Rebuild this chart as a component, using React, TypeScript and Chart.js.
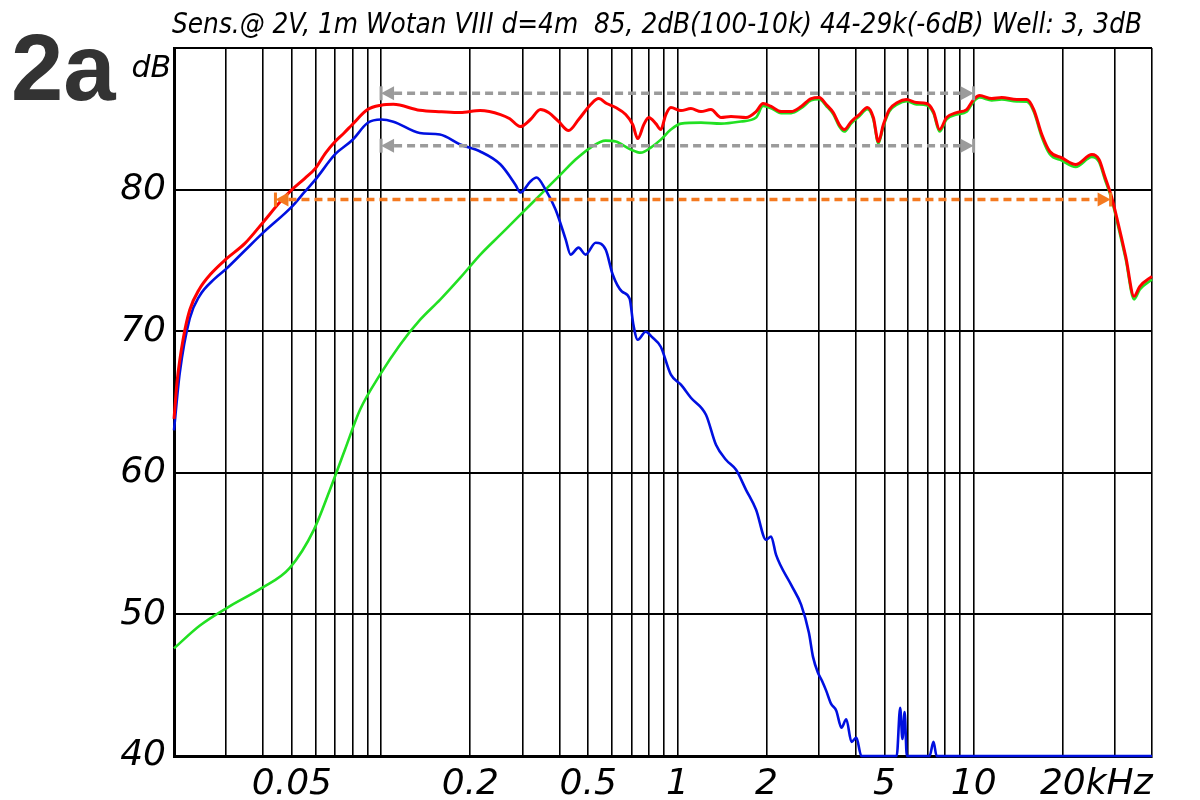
import React, { useEffect, useRef } from 'react';
import { Chart, registerables } from 'chart.js';

Chart.register(...registerables);

// ---------- texts ----------
const TITLE = 'Sens.@ 2V, 1m Wotan VIII d=4m  85, 2dB(100-10k) 44-29k(-6dB) Well: 3, 3dB';
const PANEL_LABEL = '2a';
const Y_UNIT = 'dB';

// ---------- axes ----------
const X_MIN = 0.02;
const X_MAX = 40;
const Y_MIN = 40;
const Y_MAX = 90;
const X_GRID = [0.02, 0.03, 0.04, 0.05, 0.06, 0.07, 0.08, 0.09, 0.1, 0.2, 0.3, 0.4, 0.5, 0.6, 0.7, 0.8, 0.9, 1, 2, 3, 4, 5, 6, 7, 8, 9, 10, 20, 30, 40];
const X_LABEL_VALUES = [0.05, 0.2, 0.5, 1, 2, 5, 10, 20];
const X_LABEL_NUMS = ['0.05', '0.2', '0.5', '1', '2', '5', '10', '20'];
const X_LABEL_UNIT = 'kHz';
const Y_TICKS = [40, 50, 60, 70, 80, 90];

// ---------- series (frequency in kHz, level in dB) ----------
const redFreq = [0.02, 0.0205, 0.0215, 0.0226, 0.0244, 0.0265, 0.03, 0.0347, 0.04, 0.0455, 0.05, 0.0553, 0.06, 0.065, 0.07, 0.075, 0.08, 0.09, 0.1, 0.11, 0.135, 0.16, 0.185, 0.216, 0.253, 0.272, 0.295, 0.3192, 0.3452, 0.3674, 0.3972, 0.4295, 0.4642, 0.5097, 0.5425, 0.5773, 0.6193, 0.6693, 0.7071, 0.735, 0.7703, 0.8008, 0.8457, 0.8794, 0.9144, 0.9506, 1.028, 1.111, 1.201, 1.298, 1.404, 1.517, 1.705, 1.844, 1.947, 2.072, 2.24, 2.422, 2.618, 2.83, 3.012, 3.181, 3.359, 3.52, 3.66, 3.865, 4.114, 4.378, 4.587, 4.77, 4.959, 5.196, 5.532, 5.934, 6.414, 6.934, 7.32, 7.672, 8.103, 8.761, 9.47, 10.0, 10.48, 11.51, 12.44, 13.98, 15.12, 15.96, 16.99, 18.08, 19.86, 22.1, 25.08, 26.5, 27.7, 29.2, 30.6, 32.6, 34.8, 36.4, 40.0];
const redDb = [63.8, 66.5, 69.5, 71.5, 73.0, 74.0, 75.1, 76.2, 77.7, 79.1, 80.0, 80.8, 81.5, 82.6, 83.4, 84.0, 84.6, 85.65, 85.96, 86.02, 85.6, 85.5, 85.44, 85.58, 85.3, 85.0, 84.45, 84.95, 85.65, 85.44, 84.81, 84.17, 84.95, 86.01, 86.43, 86.08, 85.8, 85.3, 84.59, 83.6, 84.59, 85.09, 84.66, 84.24, 85.3, 85.8, 85.58, 85.72, 85.51, 85.65, 85.09, 85.16, 85.09, 85.51, 86.08, 85.87, 85.51, 85.51, 85.87, 86.43, 86.5, 86.01, 85.44, 84.59, 84.24, 84.81, 85.3, 85.8, 85.09, 83.39, 84.59, 85.65, 86.15, 86.36, 86.15, 86.08, 85.51, 84.24, 85.09, 85.44, 85.65, 86.36, 86.64, 86.43, 86.5, 86.36, 86.36, 85.65, 83.89, 82.69, 82.24, 81.77, 82.47, 82.12, 80.94, 79.5, 77.8, 75.29, 72.46, 73.17, 73.87];

const blueFreq = [0.02, 0.0209, 0.0226, 0.0244, 0.0274, 0.03, 0.0347, 0.04, 0.05, 0.055, 0.06, 0.07, 0.08, 0.09, 0.1, 0.11, 0.135, 0.158, 0.185, 0.216, 0.253, 0.284, 0.2954, 0.319, 0.3346, 0.359, 0.388, 0.42, 0.436, 0.464, 0.49, 0.53, 0.573, 0.605, 0.65, 0.69, 0.71, 0.735, 0.782, 0.82, 0.879, 0.951, 1.028, 1.111, 1.249, 1.35, 1.459, 1.578, 1.705, 1.844, 1.993, 2.072, 2.154, 2.422, 2.618, 2.78, 2.87, 2.98, 3.08, 3.181, 3.3, 3.439, 3.58, 3.717, 3.87, 4.019, 4.178, 5.5, 5.65, 5.75, 5.85, 5.95, 7.1, 7.32, 7.5, 40];
const blueDb = [63.0, 67.0, 70.9, 72.5, 73.7, 74.4, 75.7, 76.96, 78.8, 79.8, 80.7, 82.5, 83.5, 84.7, 84.95, 84.8, 84.0, 83.89, 83.18, 82.69, 81.77, 80.35, 79.79, 80.57, 80.85, 80.0, 78.59, 76.47, 75.41, 75.9, 75.41, 76.25, 75.76, 74.0, 72.8, 72.3, 70.5, 69.4, 69.96, 69.6, 68.9, 66.93, 66.22, 65.3, 64.1, 61.98, 60.92, 60.21, 58.8, 57.39, 55.27, 55.5, 54.2, 52.08, 50.67, 48.7, 47.0, 45.9, 45.3, 44.6, 43.7, 43.2, 42.0, 42.6, 41.0, 41.3, 40.0, 40.0, 43.4, 41.2, 43.1, 40.0, 40.0, 41.0, 40.0, 40.0];

const greenFreq = [0.02, 0.0244, 0.0304, 0.0396, 0.0492, 0.0593, 0.0672, 0.0755, 0.0849, 0.0992, 0.1159, 0.1355, 0.1583, 0.1851, 0.2163, 0.2528, 0.2954, 0.3452, 0.4034, 0.4534, 0.5097, 0.5728, 0.6193, 0.6962, 0.7524, 0.8134, 0.8794, 0.9506, 1.028, 1.201, 1.404, 1.64, 1.844, 1.947, 2.072, 2.24, 2.422, 2.618, 2.83, 3.012, 3.181, 3.359, 3.52, 3.66, 3.865, 4.114, 4.378, 4.587, 4.77, 4.959, 5.196, 5.532, 5.934, 6.414, 6.934, 7.32, 7.672, 8.103, 8.761, 9.47, 10.0, 10.48, 11.51, 12.44, 13.98, 15.12, 15.96, 16.99, 18.08, 19.86, 22.1, 25.08, 26.5, 27.7, 29.2, 30.6, 32.6, 34.8, 36.4, 40.0];
const greenDb = [47.6, 49.2, 50.5, 51.87, 53.29, 55.97, 58.8, 61.63, 64.45, 66.93, 69.05, 70.81, 72.23, 73.78, 75.41, 76.82, 78.23, 79.65, 81.06, 82.12, 82.97, 83.46, 83.39, 82.83, 82.61, 82.97, 83.53, 84.24, 84.66, 84.73, 84.66, 84.81, 85.09, 85.9, 85.75, 85.4, 85.4, 85.75, 86.3, 86.38, 85.9, 85.32, 84.46, 84.1, 84.68, 85.18, 85.68, 84.96, 83.26, 84.46, 85.52, 86.02, 86.24, 86.02, 85.96, 85.38, 84.1, 84.96, 85.3, 85.5, 86.22, 86.5, 86.3, 86.36, 86.22, 86.2, 85.5, 83.7, 82.5, 82.05, 81.6, 82.3, 81.95, 80.75, 79.35, 77.6, 75.1, 72.25, 72.95, 73.65];

// ---------- reference arrows ----------
const GRAY_ARROW_FROM = 0.1;
const GRAY_ARROW_TO = 10;
const GRAY_ARROW_LEVELS = [86.8, 83.1];
const ORANGE_ARROW_FROM = 0.044;
const ORANGE_ARROW_TO = 29;
const ORANGE_ARROW_LEVEL = 79.3;

const TICK_FONT_FAMILY = '"DejaVu Sans", "Liberation Sans", sans-serif';
const NARROW_FAMILY = '"Liberation Sans Narrow", "DejaVu Sans Condensed", "Liberation Sans", sans-serif';

function toPoints(xs: number[], ys: number[]) {
  return xs.map((x, i) => ({ x, y: ys[i] }));
}

function drawArrow(ctx: CanvasRenderingContext2D, x1: number, x2: number, y: number, color: string, width: number) {
  const head = 13;
  const half = 7;
  ctx.save();
  ctx.strokeStyle = color;
  ctx.fillStyle = color;
  ctx.lineWidth = width;
  ctx.setLineDash([8, 5]);
  ctx.beginPath();
  ctx.moveTo(x1 + head, y);
  ctx.lineTo(x2 - head, y);
  ctx.stroke();
  ctx.setLineDash([]);
  ctx.beginPath();
  ctx.moveTo(x1, y);
  ctx.lineTo(x1 + head, y - half);
  ctx.lineTo(x1 + head, y + half);
  ctx.closePath();
  ctx.fill();
  ctx.fillRect(x1 - 1.5, y - half, 3, half * 2);
  ctx.beginPath();
  ctx.moveTo(x2, y);
  ctx.lineTo(x2 - head, y - half);
  ctx.lineTo(x2 - head, y + half);
  ctx.closePath();
  ctx.fill();
  ctx.fillRect(x2 - 1.5, y - half, 3, half * 2);
  ctx.restore();
}

const decorPlugin = {
  id: 'decor',
  afterDatasetsDraw(chart: any) {
    const ctx: CanvasRenderingContext2D = chart.ctx;
    const xs = chart.scales.x;
    const ys = chart.scales.y;
    GRAY_ARROW_LEVELS.forEach((lvl) => {
      drawArrow(ctx, xs.getPixelForValue(GRAY_ARROW_FROM), xs.getPixelForValue(GRAY_ARROW_TO), ys.getPixelForValue(lvl), '#9b9b9b', 3.5);
    });
    drawArrow(ctx, xs.getPixelForValue(ORANGE_ARROW_FROM), xs.getPixelForValue(ORANGE_ARROW_TO), ys.getPixelForValue(ORANGE_ARROW_LEVEL), '#f4791f', 3.5);
  },
  afterDraw(chart: any) {
    const ctx: CanvasRenderingContext2D = chart.ctx;
    const xs = chart.scales.x;
    const area = chart.chartArea;
    ctx.save();
    ctx.fillStyle = '#000';
    ctx.font = `italic 200 36px ${TICK_FONT_FAMILY}`;
    ctx.textBaseline = 'alphabetic';
    ctx.textAlign = 'left';
    X_LABEL_VALUES.forEach((v, i) => {
      const num = X_LABEL_NUMS[i];
      const full = i === X_LABEL_VALUES.length - 1 ? num + X_LABEL_UNIT : num;
      const w = ctx.measureText(num).width;
      ctx.fillText(full, xs.getPixelForValue(v) - w / 2, area.bottom + 38);
    });
    ctx.font = `italic 200 30px ${TICK_FONT_FAMILY}`;
    ctx.textAlign = 'right';
    ctx.fillText(Y_UNIT, area.left - 3, area.top + 29);
    ctx.font = 'bold 94px "Liberation Sans", Arial, sans-serif';
    ctx.textAlign = 'left';
    ctx.fillStyle = '#333333';
    ctx.fillText(PANEL_LABEL, 11, 100);
    ctx.fillStyle = '#000';
    ctx.font = `italic 28px ${NARROW_FAMILY}`;
    const tw = ctx.measureText(TITLE).width;
    const target = 1142 - 172;
    ctx.translate(172, 33);
    ctx.scale(target / tw, 1);
    ctx.fillText(TITLE, 0, 0);
    ctx.restore();
  },
};

export default function App() {
  const ref = useRef<HTMLCanvasElement | null>(null);
  useEffect(() => {
    if (!ref.current) return;
    const chart = new Chart(ref.current, {
      type: 'line',
      data: {
        datasets: [
          { label: 'Total', data: toPoints(redFreq, redDb), borderColor: '#ff0000', borderWidth: 3, pointRadius: 0, cubicInterpolationMode: 'monotone', clip: false as any },
          { label: 'Low', data: toPoints(blueFreq, blueDb), borderColor: '#0010e0', borderWidth: 2.6, pointRadius: 0, cubicInterpolationMode: 'monotone', clip: false as any },
          { label: 'High', data: toPoints(greenFreq, greenDb), borderColor: '#22e022', borderWidth: 2.6, pointRadius: 0, cubicInterpolationMode: 'monotone', clip: false as any },
        ],
      },
      options: {
        animation: false,
        responsive: false,
        maintainAspectRatio: false,
        layout: { padding: { top: 48, right: 48, left: 0, bottom: 0 } },
        plugins: { legend: { display: false }, tooltip: { enabled: false }, title: { display: false } },
        scales: {
          x: {
            type: 'logarithmic',
            min: X_MIN,
            max: X_MAX,
            afterBuildTicks: (scale: any) => {
              scale.ticks = X_GRID.map((v) => ({ value: v }));
            },
            afterFit: (scale: any) => {
              scale.height = 44;
            },
            ticks: { display: false, autoSkip: false },
            grid: { color: '#000', lineWidth: 1.6, drawTicks: false },
            border: { display: true, color: '#000', width: 3 },
          },
          y: {
            type: 'linear',
            min: Y_MIN,
            max: Y_MAX,
            afterBuildTicks: (scale: any) => {
              scale.ticks = Y_TICKS.map((v) => ({ value: v }));
            },
            afterFit: (scale: any) => {
              scale.width = 174;
            },
            ticks: {
              autoSkip: false,
              padding: 8,
              color: '#000',
              font: { family: TICK_FONT_FAMILY, size: 36, style: 'italic', weight: '200' as any },
              callback: (v: any) => (v === Y_MAX ? '' : String(v)),
            },
            grid: { color: '#000', lineWidth: 2, drawTicks: false },
            border: { display: true, color: '#000', width: 3 },
          },
        },
      },
      plugins: [decorPlugin],
    });
    return () => chart.destroy();
  }, []);
  return (
    <div style={{ position: 'fixed', left: 0, top: 0, width: 1200, height: 800, background: '#fff' }}>
      <canvas ref={ref} width={1200} height={800} style={{ width: 1200, height: 800 }} />
    </div>
  );
}
